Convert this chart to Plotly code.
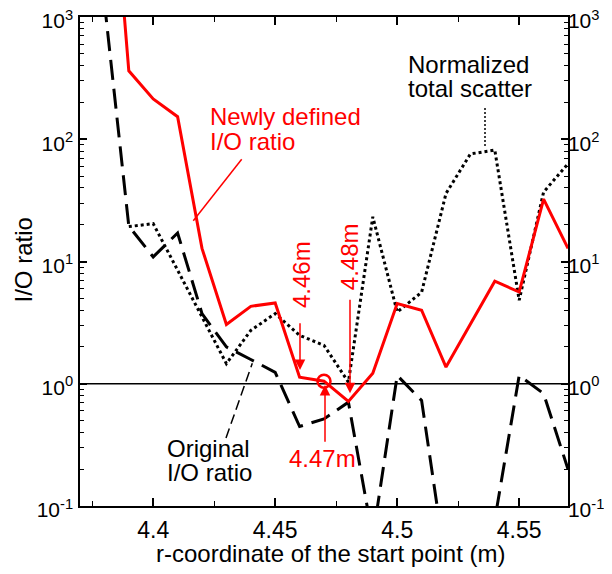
import plotly.graph_objects as go

# ---------------- data ----------------
r_start = [4.38, 4.39, 4.40, 4.41, 4.42, 4.43, 4.44, 4.45, 4.46, 4.47,
           4.48, 4.49, 4.50, 4.51, 4.52, 4.53, 4.54, 4.55, 4.56, 4.57]
new_io = [1e5, 363, 214, 153, 12.8, 3.05, 4.3, 4.58, 1.13, 1.05,
          0.716, 1.22, 4.53, 3.99, 1.37, 3.1, 6.9, 5.63, 32.4, 12.8]
orig_io = [1320, 19.5, 10.9, 17.1, 3.75, 2.0, 1.58, 1.24, 0.447, 0.516,
           0.707, 0.055, 1.17, 0.73, 0.032, 0.02, 0.077, 1.17, 0.83, 0.2]
norm_scatter = [None, 19.3, 20.4, 8.5, 3.5, 1.46, 2.73, 3.75, 2.49, 2.06,
                1.03, 23.2, 3.86, 5.6, 36, 75.8, 81.6, 4.82, 37, 63]
marked_r = [4.47]
marked_v = [1.05]
ref_x = [4.37, 4.57]
ref_y = [1, 1]

x_ticks = [4.4, 4.45, 4.5, 4.55]
x_ticktext = ["4.4", "4.45", "4.5", "4.55"]
x_minor = [4.375, 4.425, 4.475, 4.525, 4.575]
y_ticks = [0.1, 1, 10, 100, 1000]
y_ticktext = ["10<sup>-1</sup>", "10<sup>0</sup>", "10<sup>1</sup>",
              "10<sup>2</sup>", "10<sup>3</sup>"]
y_minor = [m * d for d in [0.1, 1, 10, 100] for m in range(2, 10)]

FONT = "Liberation Sans, Arial, sans-serif"
RED = "#ff0000"

# the page body adds an 8px offset; target plot area in window pixels
OFF = 8
W, H = 612, 574
L, R, T, B = 80, 568, 17, 506


def px(xp, yp):
    return (xp - L) / (R - L), (B - yp) / (B - T)


fig = go.Figure()
fig.add_trace(go.Scatter(x=ref_x, y=ref_y, mode="lines",
                         line=dict(color="black", width=1.5),
                         showlegend=False, hoverinfo="skip"))
fig.add_trace(go.Scatter(x=r_start, y=norm_scatter, mode="lines",
                         line=dict(color="black", width=3, dash="3px,3px"),
                         name="Normalized total scatter", connectgaps=False))
fig.add_trace(go.Scatter(x=r_start, y=orig_io, mode="lines",
                         line=dict(color="black", width=3, dash="20px,9px"),
                         name="Original I/O ratio"))
fig.add_trace(go.Scatter(x=r_start, y=new_io, mode="lines",
                         line=dict(color=RED, width=3),
                         name="Newly defined I/O ratio"))
fig.add_trace(go.Scatter(x=marked_r, y=marked_v, mode="markers",
                         marker=dict(symbol="circle-open", size=13,
                                     color=RED, line=dict(width=2.5, color=RED)),
                         showlegend=False))
fig.add_trace(go.Scatter(x=[None], y=[None], yaxis="y2", showlegend=False,
                         hoverinfo="skip"))

annotations = []


def text(t, xp, yp, color, xanchor="left", angle=0, size=24):
    xx, yy = px(xp, yp)
    annotations.append(dict(text=t, x=xx, y=yy, xref="paper", yref="paper",
                            xanchor=xanchor, yanchor="middle", showarrow=False,
                            textangle=angle,
                            font=dict(family=FONT, size=size, color=color)))


def arrow(tail, tip, color):
    xx, yy = px(*tip)
    annotations.append(dict(text="", x=xx, y=yy, xref="paper", yref="paper",
                            ax=tail[0] - tip[0], ay=tail[1] - tip[1],
                            showarrow=True, arrowhead=2, arrowsize=1.4,
                            arrowwidth=1.5, arrowcolor=color))


# axis titles
text("r-coordinate of the start point (m)", 330, 553.4, "black", xanchor="center")
text("I/O ratio", 22.5, 260, "black", xanchor="center", angle=-90)

text("Newly defined", 208, 116.7, RED)
text("I/O ratio", 208, 141.5, RED)
text("Normalized", 406, 65, "black")
text("total scatter", 406, 88.5, "black")
text("Original", 165, 448.7, "black")
text("I/O ratio", 165, 472, "black")
text("4.47m", 322.7, 458, RED, xanchor="center")
text("4.46m", 301, 275, RED, xanchor="center", angle=-90)
text("4.48m", 349.5, 256.7, RED, xanchor="center", angle=-90)

arrow((300, 321.7), (300, 370), RED)
arrow((350, 298.3), (350, 393.3), RED)
arrow((325, 443.3), (325, 385), RED)

shapes = []


def seg(p0, p1, color, dash):
    x0, y0 = px(*p0)
    x1, y1 = px(*p1)
    shapes.append(dict(type="line", xref="paper", yref="paper",
                       x0=x0, y0=y0, x1=x1, y1=y1,
                       line=dict(color=color, width=1.5, dash=dash)))


seg((241.7, 159.3), (193.3, 220.7), RED, "solid")
seg((485, 108), (485, 146.7), "black", "2px,2px")
seg((226, 438), (252.3, 363.3), "black", "10px,5px")

yaxis_common = dict(
    type="log", range=[-1, 3], tickmode="array", tickvals=y_ticks,
    ticktext=y_ticktext, ticks="inside", ticklen=7, tickwidth=1.5,
    tickcolor="black", showline=True, linecolor="black", linewidth=1.5,
    showgrid=False, zeroline=False, automargin=False,
    ticklabeloverflow="allow", ticklabelshift=4,
    tickfont=dict(family=FONT, size=21, color="black"),
    minor=dict(tickmode="array", tickvals=y_minor, ticks="inside",
               ticklen=4, tickwidth=1.2, tickcolor="black", showgrid=False),
)

fig.update_layout(
    width=W, height=H,
    margin=dict(l=L - OFF, r=W - (R - OFF), t=T - OFF, b=H - (B - OFF), pad=0),
    paper_bgcolor="white", plot_bgcolor="white",
    showlegend=False,
    font=dict(family=FONT, size=23, color="black"),
    xaxis=dict(
        range=[4.37, 4.57], tickmode="array", tickvals=x_ticks,
        ticktext=x_ticktext, ticks="inside", ticklen=8, tickwidth=1.5,
        tickcolor="black", showline=True, linecolor="black", linewidth=1.5,
        mirror="ticks", showgrid=False, zeroline=False, automargin=False,
        ticklabelstandoff=3,
        tickfont=dict(family=FONT, size=23, color="black"),
        minor=dict(tickmode="array", tickvals=x_minor, ticks="inside",
                   ticklen=5, tickwidth=1.2, tickcolor="black", showgrid=False),
    ),
    yaxis=dict(**yaxis_common, ticklabelstandoff=1),
    yaxis2=dict(**yaxis_common, overlaying="y", side="right",
                ticklabelstandoff=-6),
    annotations=annotations,
    shapes=shapes,
)

fig.write_html("out.html")
